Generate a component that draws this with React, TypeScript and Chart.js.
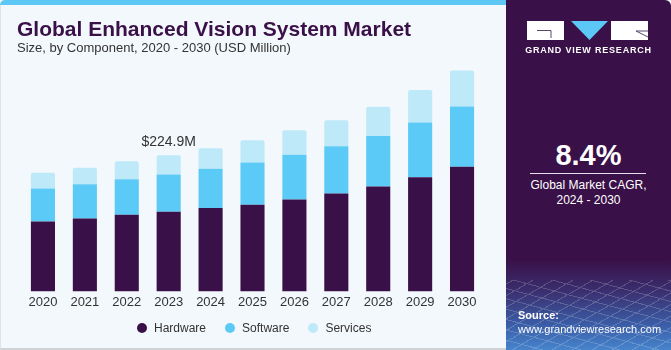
import React, { useEffect, useRef } from "react";
import { Chart, registerables } from "chart.js";

Chart.register(...registerables);

const years = ["2020", "2021", "2022", "2023", "2024", "2025", "2026", "2027", "2028", "2029", "2030"];
const hardware = [115.7, 120.6, 126.6, 131.5, 138.0, 143.4, 152.1, 161.9, 173.3, 188.5, 205.9];
const software = [54.3, 56.5, 58.7, 61.9, 64.6, 69.5, 73.9, 78.2, 83.7, 90.7, 99.9];
const services = [26.1, 27.2, 29.9, 31.5, 34.2, 36.9, 40.2, 42.9, 48.3, 53.8, 59.2];
const annotationIndex = 3;
const annotationText = "$224.9M";

const seriesNames = ["Hardware", "Software", "Services"];
const seriesColors = ["#3a1048", "#5ccaf6", "#bee9f9"];

const FONT = "'Liberation Sans', Arial, sans-serif";

const labelPlugin = {
  id: "totalLabel",
  afterDatasetsDraw(chart: any) {
    const meta = chart.getDatasetMeta(2);
    const el = meta.data[annotationIndex];
    if (!el) return;
    const ctx = chart.ctx;
    ctx.save();
    ctx.font = `14px ${FONT}`;
    ctx.fillStyle = "#333333";
    ctx.textAlign = "center";
    ctx.textBaseline = "alphabetic";
    ctx.fillText(annotationText, el.x, el.y - 9);
    ctx.restore();
  },
};

function App() {
  const ref = useRef<HTMLCanvasElement | null>(null);
  useEffect(() => {
    document.body.style.margin = "0";
    const c = ref.current;
    if (!c) return;
    const data = [hardware, software, services];
    const chart = new Chart(c, {
      type: "bar",
      data: {
        labels: years,
        datasets: data.map((d, i) => ({
          label: seriesNames[i],
          data: d,
          backgroundColor: seriesColors[i],
          barPercentage: 0.575,
          categoryPercentage: 1,
          borderRadius: i === 2 ? { topLeft: 2, topRight: 2, bottomLeft: 0, bottomRight: 0 } : 0,
          borderSkipped: i === 2 ? false : "start",
        })),
      },
      options: {
        animation: false,
        responsive: false,
        maintainAspectRatio: false,
        layout: { padding: { left: 22, right: 23, top: 61.5, bottom: 37 } },
        plugins: { legend: { display: false }, tooltip: { enabled: false } },
        scales: {
          x: {
            stacked: true,
            grid: { display: false, drawTicks: false },
            border: { display: false },
            ticks: { color: "#333333", font: { family: FONT, size: 13 }, padding: 3 },
          },
          y: {
            stacked: true,
            display: false,
            min: 0,
            max: 380,
          },
        },
      },
      plugins: [labelPlugin],
    });
    return () => chart.destroy();
  }, []);

  const legendItem = (i: number) => (
    <div key={i} style={{ display: "flex", alignItems: "center", marginRight: i < 2 ? 19 : 0 }}>
      <span style={{ width: 10, height: 10, borderRadius: 5, background: seriesColors[i], marginRight: 7, display: "inline-block" }} />
      <span style={{ fontSize: 12, color: "#333" }}>{seriesNames[i]}</span>
    </div>
  );

  return (
    <div style={{ position: "relative", width: 671, height: 350, background: "#f3f8fc", fontFamily: FONT, overflow: "hidden" }}>
      <div style={{ position: "absolute", left: 0, top: 0, width: 506, height: 350, boxSizing: "border-box", borderLeft: "1px solid #dde3e8", borderBottom: "2px solid #cfd3d6", borderTopLeftRadius: 5 }} />
      <div style={{ position: "absolute", left: 0, top: 0, width: 506, height: 5, background: "#5cc8f3", borderTopLeftRadius: 5 }} />
      <canvas ref={ref} width={506} height={350} style={{ position: "absolute", left: 0, top: 0 }} />
      <div style={{ position: "absolute", left: 17, top: 17, fontSize: 21, fontWeight: "bold", color: "#3a1048", whiteSpace: "nowrap" }}>
        Global Enhanced Vision System Market
      </div>
      <div style={{ position: "absolute", left: 17, top: 40, fontSize: 13, color: "#333", whiteSpace: "nowrap" }}>
        Size, by Component, 2020 - 2030 (USD Million)
      </div>
      <div style={{ position: "absolute", left: 137, top: 320, display: "flex", alignItems: "center", height: 16 }}>
        {[0, 1, 2].map(legendItem)}
      </div>
      <div
        style={{
          position: "absolute",
          left: 506,
          top: 0,
          width: 165,
          height: 350,
          borderTopRightRadius: 6,
          background: "linear-gradient(180deg, #3a1048 0%, #3a1048 74%, #3a2e6e 83%, #3b5ea8 93%, #4684cc 100%)",
          overflow: "hidden",
        }}
      >
        <div
          style={{
            position: "absolute",
            left: 0,
            top: 280,
            width: 165,
            height: 70,
            opacity: 0.18,
            background:
              "repeating-linear-gradient(15deg, transparent 0px, transparent 9px, #ffffff 9px, #ffffff 10px), repeating-linear-gradient(-30deg, transparent 0px, transparent 9px, #ffffff 9px, #ffffff 10px)",
          }}
        />
        <svg width={165} height={60} style={{ position: "absolute", left: 0, top: 0 }}>
          <rect x={21} y={21} width={37} height={19} fill="#ffffff" />
          <polyline points="31,30.5 45,30.5 45,38" fill="none" stroke="#5a4670" strokeWidth={1} />
          <polygon points="65,21 102,21 83.5,40" fill="#5cc8f5" />
          <rect x={105} y={21} width={37} height={19} fill="#ffffff" />
          <polyline points="142,37 130,31 142,31" fill="none" stroke="#5a4670" strokeWidth={1} />
        </svg>
        <div style={{ position: "absolute", left: 0, width: 165, top: 45, textAlign: "center", color: "#fff", fontSize: 9, fontWeight: "bold", letterSpacing: 0.8, whiteSpace: "nowrap" }}>
          GRAND VIEW RESEARCH
        </div>
        <div style={{ position: "absolute", left: 0, width: 165, top: 139, textAlign: "center", color: "#fff", fontSize: 29, fontWeight: "bold" }}>
          8.4%
        </div>
        <div style={{ position: "absolute", left: 24, width: 116, top: 173, height: 1, background: "#e6e0ea" }} />
        <div style={{ position: "absolute", left: 0, width: 165, top: 178, textAlign: "center", color: "#fff", fontSize: 12, lineHeight: "15px" }}>
          Global Market CAGR,
          <br />
          2024 - 2030
        </div>
        <div style={{ position: "absolute", left: 12, top: 309, color: "#fff", fontSize: 11, fontWeight: "bold" }}>Source:</div>
        <div style={{ position: "absolute", left: 12, top: 323, color: "#fff", fontSize: 11, whiteSpace: "nowrap" }}>www.grandviewresearch.com</div>
      </div>
    </div>
  );
}

export default App;
